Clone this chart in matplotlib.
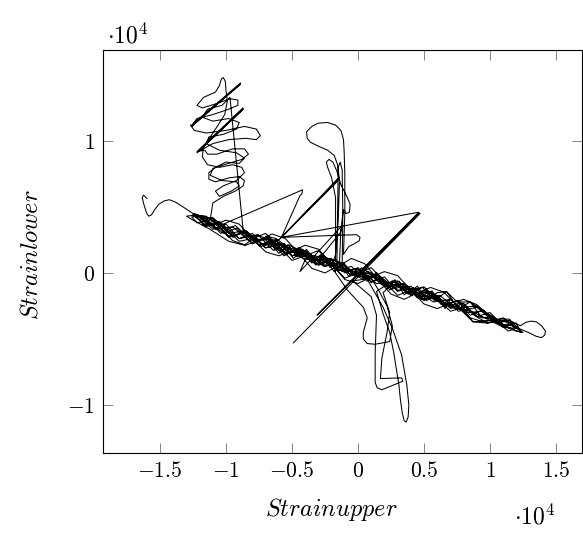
import matplotlib
matplotlib.use("Agg")
import matplotlib.pyplot as plt

plt.rcParams['mathtext.fontset'] = 'cm'
plt.rcParams['font.family'] = 'serif'
plt.rcParams['font.serif'] = ['cmr10', 'DejaVu Serif']

# values, in units of 10^4
SCALE = 1e4

left_tail = [(-1.60, 0.565), (-1.625, 0.59), (-1.635, 0.57), (-1.62, 0.51), (-1.60, 0.45),
             (-1.585, 0.43), (-1.565, 0.44), (-1.54, 0.48), (-1.51, 0.52), (-1.47, 0.545),
             (-1.43, 0.555), (-1.38, 0.535), (-1.31, 0.49), (-1.22, 0.43), (-1.12, 0.38)]

band_1 = [(-1.02, 0.30), (-0.92, 0.34), (-0.80, 0.22), (-0.68, 0.27), (-0.55, 0.14),
          (-0.42, 0.18), (-0.30, 0.06), (-0.18, 0.10), (-0.05, -0.02), (0.08, 0.01),
          (0.22, -0.11), (0.35, -0.08), (0.48, -0.20), (0.62, -0.17), (0.76, -0.29),
          (0.90, -0.26), (1.03, -0.37), (1.15, -0.36), (1.23, -0.40)]

right_loop = [(1.27, -0.375), (1.31, -0.365), (1.35, -0.37), (1.39, -0.40), (1.42, -0.44),
              (1.415, -0.47), (1.39, -0.49), (1.35, -0.48), (1.30, -0.455), (1.24, -0.43),
              (1.17, -0.40)]

band_2 = [(1.08, -0.39), (0.95, -0.29), (0.82, -0.30), (0.70, -0.20), (0.57, -0.22),
          (0.44, -0.12), (0.30, -0.13), (0.16, -0.02), (0.02, -0.04), (-0.12, 0.07),
          (-0.26, 0.06), (-0.40, 0.17), (-0.54, 0.15), (-0.68, 0.26), (-0.82, 0.24),
          (-0.95, 0.35), (-1.08, 0.33), (-1.20, 0.43), (-1.26, 0.425), (-1.22, 0.38),
          (-1.12, 0.40)]

cluster = [(-1.10, 0.53), (-1.02, 0.58), (-0.93, 0.62), (-0.87, 0.66), (-0.86, 0.70),
           (-0.90, 0.73), (-0.98, 0.72), (-1.08, 0.69), (-1.13, 0.71), (-1.13, 0.76),
           (-1.08, 0.80), (-0.98, 0.83), (-0.88, 0.86), (-0.83, 0.90), (-0.86, 0.94),
           (-0.95, 0.94), (-1.07, 0.90), (-1.14, 0.90), (-1.16, 0.93),
           (-1.22, 0.92), (-0.87, 1.25), (-1.22, 0.91), (-0.87, 1.24), (-1.21, 0.92),
           (-1.10, 0.98), (-0.98, 1.01), (-0.85, 1.02), (-0.77, 1.01), (-0.74, 1.04),
           (-0.77, 1.09), (-0.86, 1.11), (-1.00, 1.08), (-1.15, 1.06), (-1.24, 1.08),
           (-1.27, 1.12),
           (-1.26, 1.12), (-0.89, 1.43), (-1.26, 1.11), (-0.89, 1.44), (-1.25, 1.13),
           (-1.22, 1.17), (-1.10, 1.20), (-0.98, 1.24), (-0.91, 1.27), (-0.91, 1.31),
           (-0.97, 1.32), (-1.08, 1.28), (-1.18, 1.25), (-1.22, 1.27), (-1.17, 1.33),
           (-1.08, 1.37), (-1.05, 1.42), (-1.035, 1.47), (-1.02, 1.48), (-1.005, 1.45),
           (-1.00, 1.38), (-0.99, 1.30), (-1.01, 1.20), (-1.06, 1.12), (-1.12, 1.03),
           (-1.17, 0.95), (-1.18, 0.88), (-1.14, 0.82), (-1.05, 0.80), (-0.95, 0.82),
           (-0.88, 0.80), (-0.86, 0.76), (-0.92, 0.70), (-1.02, 0.66), (-1.08, 0.62),
           (-1.05, 0.58), (-0.96, 0.62), (-0.90, 0.66), (-0.92, 0.69), (-1.03, 0.70),
           (-1.12, 0.74), (-1.10, 0.79), (-1.00, 0.84), (-0.90, 0.83), (-0.86, 0.87),
           (-0.92, 0.91), (-1.05, 0.93), (-1.15, 0.98), (-1.13, 1.03), (-1.02, 1.05),
           (-0.92, 1.09), (-0.90, 1.14), (-0.98, 1.17), (-1.10, 1.15), (-1.18, 1.18),
           (-1.14, 1.24), (-1.03, 1.27), (-0.97, 1.33),
           (-0.87, 0.32)]

band_3 = [(-0.75, 0.21), (-0.62, 0.25), (-0.50, 0.13), (-0.38, 0.16), (-0.25, 0.05),
          (-0.12, 0.08), (0.00, -0.03), (0.12, -0.01), (0.25, -0.12), (0.38, -0.10),
          (0.50, -0.21), (0.60, -0.15), (0.67, -0.14), (0.75, -0.22), (0.85, -0.22),
          (0.92, -0.27), (1.02, -0.33), (1.12, -0.41), (1.20, -0.44), (1.25, -0.45)]

band_4 = [(1.10, -0.34), (0.98, -0.38), (0.87, -0.37), (0.76, -0.26), (0.64, -0.24),
          (0.52, -0.15), (0.40, -0.16), (0.28, -0.07), (0.14, -0.08), (0.00, 0.03),
          (-0.14, 0.02), (-0.28, 0.12), (-0.42, 0.11), (-0.56, 0.22), (-0.70, 0.19),
          (-0.84, 0.31), (-0.98, 0.28), (-1.10, 0.39), (-1.18, 0.36)]

triangle = [(-1.02, 0.37), (-0.42, 0.63), (-0.425, 0.60), (-0.44, 0.585), (-0.58, 0.27),
            (-0.01, 0.29), (0.015, 0.27), (0.01, 0.245), (-0.03, 0.22), (-0.07, 0.20)]

big_loop = [(-0.11, 0.14), (-0.10, 0.45), (-0.10, 0.75), (-0.105, 0.92), (-0.11, 1.01),
            (-0.13, 1.08), (-0.17, 1.12), (-0.23, 1.14), (-0.30, 1.135), (-0.35, 1.11),
            (-0.39, 1.07), (-0.385, 1.02), (-0.36, 0.99), (-0.30, 0.96), (-0.23, 0.93),
            (-0.18, 0.89), (-0.155, 0.82), (-0.14, 0.70), (-0.15, 0.40), (-0.17, 0.14),
            (-0.20, 0.05)]

band_5 = [(-0.32, 0.13), (-0.45, 0.13), (-0.58, 0.22), (-0.72, 0.21), (-0.85, 0.32),
          (-0.98, 0.30), (-1.10, 0.41), (-1.22, 0.44), (-1.30, 0.43), (-1.25, 0.40),
          (-1.12, 0.33), (-0.98, 0.24), (-0.86, 0.21), (-0.76, 0.29), (-0.66, 0.24),
          (-0.56, 0.13), (-0.44, 0.19), (-0.32, 0.06), (-0.20, 0.11), (-0.17, 0.00)]

lower_1 = [(-0.08, -0.13), (0.04, -0.26), (0.07, -0.34), (0.04, -0.45), (0.04, -0.50),
           (0.07, -0.535), (0.13, -0.54), (0.24, -0.52), (0.26, -0.40), (0.22, -0.25),
           (0.15, -0.12), (0.10, -0.04), (-0.04, -0.06)]

lower_2 = [(0.10, -0.18), (0.14, -0.32), (0.13, -0.61), (0.13, -0.83), (0.145, -0.87),
           (0.18, -0.885), (0.34, -0.82), (0.33, -0.795), (0.17, -0.80), (0.18, -0.65),
           (0.22, -0.45), (0.24, -0.30), (0.19, -0.15)]

band_5b = [(0.28, -0.06), (0.40, -0.17), (0.52, -0.13), (0.64, -0.24), (0.76, -0.21),
           (0.88, -0.32), (0.98, -0.38), (1.10, -0.36), (1.20, -0.42), (1.14, -0.44)]

band_6 = [(1.02, -0.35), (0.90, -0.33), (0.78, -0.23), (0.66, -0.25), (0.54, -0.14),
          (0.42, -0.16), (0.30, -0.06), (0.18, -0.09), (0.06, 0.02), (-0.06, -0.01)]

narrow_loop = [(-0.17, 0.10), (-0.17, 0.57), (-0.20, 0.72), (-0.23, 0.80), (-0.24, 0.84),
               (-0.22, 0.86), (-0.19, 0.84), (-0.16, 0.77), (-0.13, 0.67), (-0.08, 0.57),
               (-0.06, 0.52), (-0.065, 0.46), (-0.09, 0.45), (-0.11, 0.48), (-0.13, 0.33),
               (-0.14, 0.08)]

band_6b = [(-0.28, 0.13), (-0.40, 0.10), (-0.44, 0.01), (-0.12, 0.36), (-0.13, 0.31),
           (-0.30, 0.10), (-0.52, 0.21), (-0.64, 0.17), (-0.76, 0.29), (-0.90, 0.26),
           (-1.04, 0.38), (-1.16, 0.35), (-1.24, 0.45)]

band_7 = [(-1.15, 0.41), (-1.04, 0.30), (-0.93, 0.36), (-0.82, 0.26), (-0.70, 0.25),
          (-0.60, 0.17), (-0.48, 0.19), (-0.36, 0.09), (-0.24, 0.11), (-0.12, 0.01),
          (0.00, 0.03), (0.06, -0.03)]

lower_3 = [(0.19, -0.26), (0.26, -0.42), (0.33, -0.62), (0.37, -0.85), (0.385, -1.00),
           (0.38, -1.09), (0.365, -1.13), (0.35, -1.12), (0.335, -1.06), (0.32, -0.95),
           (0.31, -0.85), (0.27, -0.60), (0.24, -0.45), (0.19, -0.31), (0.14, -0.14)]

band_7b = [(0.26, -0.06), (0.38, -0.16), (0.49, -0.11), (0.58, -0.21), (0.67, -0.14),
           (0.76, -0.27), (0.85, -0.22), (0.94, -0.34), (1.02, -0.33), (1.10, -0.39),
           (1.20, -0.44), (1.24, -0.45)]

band_8 = [(1.14, -0.37), (1.00, -0.36), (0.87, -0.37), (0.80, -0.28), (0.70, -0.26),
          (0.58, -0.17), (0.46, -0.18), (0.34, -0.08), (0.22, -0.10), (0.10, 0.00),
          (-0.02, -0.02), (-0.14, 0.08), (-0.26, 0.05), (-0.38, 0.15), (-0.50, 0.13),
          (-0.62, 0.24), (-0.74, 0.20), (-0.86, 0.31), (-0.98, 0.27), (-1.10, 0.40),
          (-1.25, 0.44)]

band_9 = [(-1.25, 0.44), (-1.15, 0.36), (-1.05, 0.39), (-0.95, 0.27), (-0.85, 0.32),
          (-0.75, 0.21), (-0.65, 0.25), (-0.55, 0.15), (-0.45, 0.19), (-0.35, 0.08),
          (-0.25, 0.12), (-0.15, 0.02), (-0.05, 0.05), (0.05, -0.05), (0.15, -0.01),
          (0.25, -0.12), (0.35, -0.08), (0.45, -0.19), (0.55, -0.14), (0.65, -0.25),
          (0.75, -0.21), (0.85, -0.32), (0.95, -0.28), (1.05, -0.38), (1.15, -0.36),
          (1.22, -0.42)]

band_10 = [(1.20, -0.38), (1.10, -0.40), (1.00, -0.30), (0.90, -0.33), (0.80, -0.23),
           (0.70, -0.27), (0.60, -0.17), (0.50, -0.20), (0.40, -0.10), (0.30, -0.14),
           (0.20, -0.03), (0.10, -0.07), (0.00, 0.04), (-0.10, 0.00), (-0.20, 0.10),
           (-0.30, 0.06), (-0.40, 0.17), (-0.50, 0.13), (-0.60, 0.23), (-0.70, 0.19),
           (-0.80, 0.30), (-0.90, 0.26), (-1.00, 0.37), (-1.10, 0.33), (-1.20, 0.42)]

band_11 = [(-1.10, 0.36), (-1.00, 0.40), (-0.90, 0.37), (-0.80, 0.26), (-0.70, 0.16),
           (-0.60, 0.13), (-0.50, 0.165), (-0.40, 0.21), (-0.30, 0.18), (-0.20, 0.07),
           (-0.10, -0.05), (0.00, -0.08), (0.10, -0.03), (0.20, 0.01), (0.30, -0.02),
           (0.40, -0.13), (0.50, -0.235), (0.60, -0.27), (0.70, -0.23), (0.80, -0.20),
           (0.90, -0.24), (1.00, -0.33), (1.10, -0.41), (1.18, -0.42)]

band_12 = [(1.15, -0.35), (1.05, -0.35), (0.95, -0.37), (0.85, -0.34), (0.75, -0.25),
           (0.65, -0.145), (0.55, -0.11), (0.45, -0.15), (0.35, -0.20), (0.25, -0.16),
           (0.15, -0.05), (0.05, 0.07), (-0.05, 0.11), (-0.15, 0.05),
           (-0.12, 0.05), (-0.115, 0.45), (-0.12, 0.78), (-0.135, 0.84), (-0.15, 0.80),
           (-0.155, 0.45), (-0.16, 0.05),
           (-0.25, 0.00), (-0.35, 0.035), (-0.45, 0.15), (-0.55, 0.26), (-0.65, 0.295),
           (-0.75, 0.25), (-0.85, 0.21), (-0.95, 0.245), (-1.05, 0.35), (-1.15, 0.43),
           (-1.25, 0.44)]

band_13 = [(-1.20, 0.40), (-1.10, 0.42), (-1.00, 0.33), (-0.90, 0.24), (-0.80, 0.26),
           (-0.70, 0.30), (-0.60, 0.20), (-0.50, 0.095), (-0.40, 0.13), (-0.30, 0.17),
           (-0.20, 0.066), (-0.10, -0.04), (0.00, 0.00), (0.10, 0.04), (0.20, -0.066),
           (0.30, -0.17), (0.40, -0.13), (0.50, -0.105), (0.60, -0.20), (0.70, -0.29),
           (0.80, -0.26), (0.90, -0.25), (1.00, -0.33), (1.10, -0.41), (0.90, -0.31),
           (0.70, -0.24), (0.50, -0.17), (0.30, -0.10), (0.10, -0.03), (-0.10, 0.03),
           (-0.30, 0.10), (-0.50, 0.17), (-0.62, 0.26)]

band_14 = [(-0.70, 0.28), (-0.63, 0.18), (-0.56, 0.225), (-0.49, 0.11), (-0.42, 0.17),
           (-0.35, 0.075), (-0.28, 0.14), (-0.21, 0.04), (-0.14, 0.086), (-0.07, -0.027),
           (0.00, 0.03), (0.07, -0.063), (0.14, 0.004), (0.21, -0.10), (0.28, -0.052),
           (0.35, -0.166), (0.42, -0.11), (0.49, -0.20), (0.56, -0.135), (0.63, -0.24),
           (0.70, -0.20)]

band_15 = [(0.66, -0.27), (0.59, -0.165), (0.52, -0.21), (0.45, -0.10), (0.38, -0.155),
           (0.31, -0.062), (0.24, -0.13), (0.17, -0.026), (0.10, -0.073), (0.03, 0.04),
           (-0.04, -0.017), (-0.11, 0.076), (-0.18, 0.009), (-0.25, 0.113), (-0.32, 0.066),
           (-0.39, 0.179), (-0.46, 0.122), (-0.53, 0.215), (-0.60, 0.148), (-0.67, 0.25)]

jumps = [(-0.60, 0.25), (-0.15, 0.71), (-0.16, 0.69), (-0.59, 0.26), (-0.15, 0.715),
         (-0.58, 0.27), (0.46, 0.46), (-0.31, -0.32), (0.465, 0.455), (-0.305, -0.315),
         (0.47, 0.45), (-0.49, -0.53)]

segments = [left_tail, band_1, right_loop, band_2, cluster, band_3, band_4, triangle,
            big_loop, band_5, lower_1, lower_2, band_5b, band_6, narrow_loop, band_6b,
            band_7, lower_3, band_7b, band_8, band_9, band_10, band_11, band_12,
            band_13, band_14, band_15, jumps]

points = [p for seg in segments for p in seg]
strain_upper = [p[0] * SCALE for p in points]
strain_lower = [p[1] * SCALE for p in points]

xticks = [-15000, -10000, -5000, 0, 5000, 10000, 15000]
xlabels = ['$-1.5$', '$-1$', '$-0.5$', '$0$', '$0.5$', '$1$', '$1.5$']
yticks = [-10000, 0, 10000]
ylabels = ['$-1$', '$0$', '$1$']

W, H = 583, 536
fig = plt.figure(figsize=(W / 100, H / 100), dpi=100)
ax = fig.add_axes([103 / W, 1 - 453 / H, 479 / W, 403 / H])

ax.plot(strain_upper, strain_lower, color='black', lw=0.75)

ax.set_xlim(-1.932e4, 1.697e4)
ax.set_ylim(-1.364e4, 1.689e4)
ax.set_xticks(xticks)
ax.set_xticklabels(xlabels)
ax.set_yticks(yticks)
ax.set_yticklabels(ylabels)
ax.tick_params(direction='in', length=7.5, width=0.5, top=True, right=True,
               labelsize=15.5, pad=6, color='#555555')
for s in ax.spines.values():
    s.set_linewidth(0.8)

ax.set_xlabel('$Strainupper$', fontsize=17.5)
ax.xaxis.set_label_coords(0.476, -0.107)
ax.set_ylabel('$Strainlower$', fontsize=17.5)
ax.yaxis.set_label_coords(-0.127, 0.491)

fig.text(107 / W, 1 - 36 / H, r'$\cdot 10^4$', fontsize=17, ha='left', va='center')
fig.text(514 / W, 1 - 517 / H, r'$\cdot 10^4$', fontsize=17, ha='left', va='center')

fig.savefig('out.png', dpi=100)
